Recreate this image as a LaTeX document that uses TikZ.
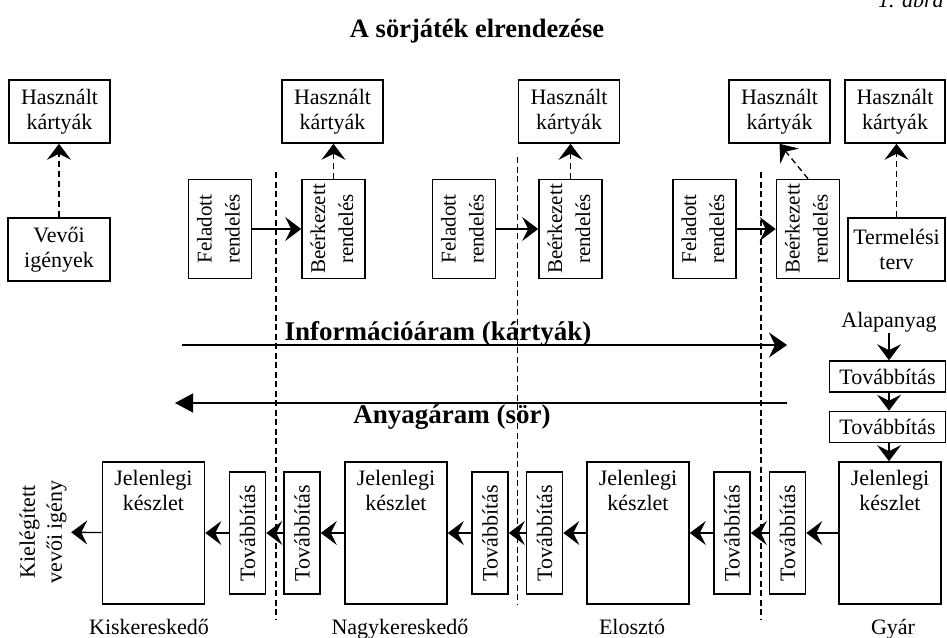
\documentclass[tikz,border=0pt]{standalone}
\usepackage{fontspec}
\setmainfont{Liberation Serif}
\usetikzlibrary{arrows.meta}
\begin{document}
\begin{tikzpicture}[x=1pt,y=-1pt,
  every node/.style={font=\fontsize{22}{25}\selectfont, inner sep=1pt},
  bx/.style={draw, line width=1.6pt, align=center, inner sep=0pt},
  usedbox/.style={bx, minimum width=101pt, minimum height=63pt},
  rotbox/.style={bx, minimum width=63pt, minimum height=99pt, font=\fontsize{21}{28}\selectfont},
  stockbox/.style={bx, minimum width=102pt, minimum height=142pt},
  tovv/.style={bx, minimum width=36pt, minimum height=122pt},
  tovh/.style={bx, minimum width=116pt, minimum height=31pt},
  boldtxt/.style={font=\bfseries\fontsize{27}{31}\selectfont},
  arr/.style={line width=1.3pt, -{Stealth[length=16pt,width=24pt,inset=6pt]}},
  darr/.style={line width=1.3pt, dash pattern=on 6pt off 4pt, -{Stealth[length=16pt,width=24pt,inset=6pt]}},
  sep/.style={line width=1.2pt, dash pattern=on 6pt off 3.5pt}
]
\useasboundingbox (0,0) rectangle (947,637);

% title
\node[font=\itshape\fontsize{22}{25}\selectfont, anchor=base west] (abra) at (877,8) {1. ábra};
\node[font=\bfseries\fontsize{26.5}{30}\selectfont, anchor=base] (title) at (477,37) {A sörjáték elrendezése};

% used cards
\node[usedbox] (h1) at (59.5,111.5) {Használt\\kártyák};
\node[usedbox] (h2) at (332.5,111.5) {Használt\\kártyák};
\node[usedbox] (h3) at (569,111.5) {Használt\\kártyák};
\node[usedbox] (h4) at (779.5,111.5) {Használt\\kártyák};
\node[usedbox, minimum width=100pt] (h5) at (895,111.5) {Használt\\kártyák};

% demand / plan
\node[bx, minimum width=102pt, minimum height=63pt] (vevo) at (59,249.5) {Vevői\\igények};
\node[bx, minimum width=97pt, minimum height=63pt] (term) at (896.5,249.5) {Termelési\\terv};

% orders
\node[rotbox] (f1) at (220,229) {\rotatebox{90}{\begin{tabular}{@{}c@{}}Feladott\\rendelés\end{tabular}}};
\node[rotbox] (b1) at (333.5,229) {\rotatebox{90}{\begin{tabular}{@{}c@{}}Beérkezett\\rendelés\end{tabular}}};
\node[rotbox] (f2) at (464,229) {\rotatebox{90}{\begin{tabular}{@{}c@{}}Feladott\\rendelés\end{tabular}}};
\node[rotbox] (b2) at (570.5,229) {\rotatebox{90}{\begin{tabular}{@{}c@{}}Beérkezett\\rendelés\end{tabular}}};
\node[rotbox] (f3) at (704.5,229) {\rotatebox{90}{\begin{tabular}{@{}c@{}}Feladott\\rendelés\end{tabular}}};
\node[rotbox] (b3) at (808,229) {\rotatebox{90}{\begin{tabular}{@{}c@{}}Beérkezett\\rendelés\end{tabular}}};

\draw[arr] (f1) -- (b1);
\draw[arr] (f2) -- (b2);
\draw[arr] (f3) -- (b3);

\draw[darr] (vevo.north) -- (vevo.north |- h1.south);
\draw[darr] (b1.north) -- (b1.north |- h2.south);
\draw[darr] (b2.north) -- (b2.north |- h3.south);
\draw[darr] (b3.north) -- (h4.south);
\draw[darr] (term.north) -- (term.north |- h5.south);

% separators
\coordinate (s1a) at (276,172); \coordinate (s1b) at (276,620);
\coordinate (s2a) at (517.5,157); \coordinate (s2b) at (517.5,605);
\coordinate (s3a) at (761,172); \coordinate (s3b) at (761,620);
\draw[sep] (s1a) -- (s1b);
\draw[sep] (s2a) -- (s2b);
\draw[sep] (s3a) -- (s3b);

% flows
\coordinate (i0) at (182,345); \coordinate (i1) at (787,345);
\draw[line width=1.3pt, -{Stealth[length=18pt,width=25pt,inset=6pt]}] (i0) -- (i1);
\node[boldtxt, anchor=base] (info) at (438,340) {Információáram (kártyák)};
\coordinate (m0) at (787,403); \coordinate (m1) at (175,403);
\draw[line width=1.3pt, -{Triangle[length=18pt,width=19pt]}] (m0) -- (m1);
\node[boldtxt, anchor=base] (mat) at (452,423) {Anyagáram (sör)};

% factory column
\node (alap) at (889,322) {Alapanyag};
\node[tovh] (th1) at (887.5,376.5) {Továbbítás};
\node[tovh] (th2) at (887.5,427) {Továbbítás};

% stock boxes
\node[stockbox] (kisk) at (153.5,533) {};
\node[stockbox] (nagy) at (396,533) {};
\node[stockbox] (elo) at (638,533) {};
\node[stockbox] (gyar) at (890,533) {};
\foreach \n in {kisk,nagy,elo,gyar}{
  \node[anchor=north, align=center] at ([yshift=-8pt]\n.north) {Jelenlegi\\készlet};
}

\draw[arr] (alap) -- (alap |- th1.north);
\draw[arr] (alap |- th1.south) -- (alap |- th2.north);
\draw[arr] (alap |- th2.south) -- (alap |- gyar.north);

% shipping boxes
\node[tovv] (tk) at (247.5,533) {\rotatebox{90}{Továbbítás}};
\node[tovv] (tnl) at (302,533) {\rotatebox{90}{Továbbítás}};
\node[tovv] (tnr) at (490,533) {\rotatebox{90}{Továbbítás}};
\node[tovv] (tel) at (544.5,533) {\rotatebox{90}{Továbbítás}};
\node[tovv] (ter) at (732,533) {\rotatebox{90}{Továbbítás}};
\node[tovv] (tg) at (787.5,533) {\rotatebox{90}{Továbbítás}};

\node[font=\fontsize{22}{27}\selectfont] (kiel) at (43,532) {\rotatebox{90}{\begin{tabular}{@{}c@{}}Kielégített\\vevői igény\end{tabular}}};

\draw[arr] (gyar) -- (tg);
\draw[arr] (tg) -- (ter);
\draw[arr] (ter) -- (elo);
\draw[arr] (elo) -- (tel);
\draw[arr] (tel) -- (tnr);
\draw[arr] (tnr) -- (nagy);
\draw[arr] (nagy) -- (tnl);
\draw[arr] (tnl) -- (tk);
\draw[arr] (tk) -- (kisk);
\draw[arr] (kisk) -- (kiel);

% labels
\node[anchor=base] (lk) at (149,634) {Kiskereskedő};
\node[anchor=base] (ln) at (400,634) {Nagykereskedő};
\node[anchor=base] (le) at (632,634) {Elosztó};
\node[anchor=base] (lg) at (893,634) {Gyár};
\end{tikzpicture}
\end{document}
